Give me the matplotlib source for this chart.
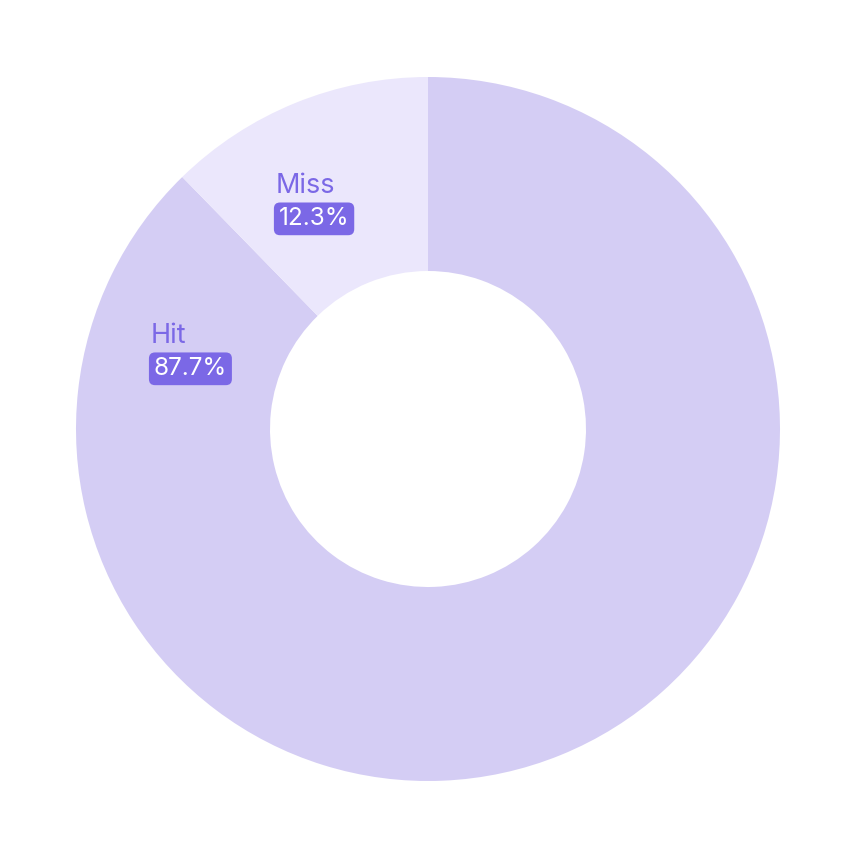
import matplotlib.pyplot as plt

labels = ['Hit', 'Miss']
values = [87.7, 12.3]
colors = ['#d4cdf4', '#ebe7fc']
accent = '#7b68e6'

plt.rcParams['font.family'] = ['Inter', 'DejaVu Sans']

fig = plt.figure(figsize=(8.56, 8.56), dpi=100)
ax = fig.add_axes([0, 0, 1, 1])
ax.pie(values, colors=colors, startangle=90, counterclock=False,
       radius=1.0, wedgeprops=dict(width=1 - 158 / 352, linewidth=0))
ax.set_xlim(-428 / 352, 428 / 352)
ax.set_ylim(-427 / 352, 429 / 352)
ax.set_aspect('equal')
ax.axis('off')

# label anchors (left x, name baseline y) in axis units
anchors = {'Hit': (-0.787, 0.245), 'Miss': (-0.432, 0.671)}
for name, v in zip(labels, values):
    x, y = anchors[name]
    ax.text(x, y, name, color=accent, fontsize=19.5, ha='left', va='baseline')
    ax.text(x + 0.008, y - 0.074, f'{v:.1f}%', color='white', fontsize=17.5,
            ha='left', va='center',
            bbox=dict(boxstyle='round,pad=0.2,rounding_size=0.25',
                      fc=accent, ec='none'))

fig.savefig('out.png', dpi=100)
